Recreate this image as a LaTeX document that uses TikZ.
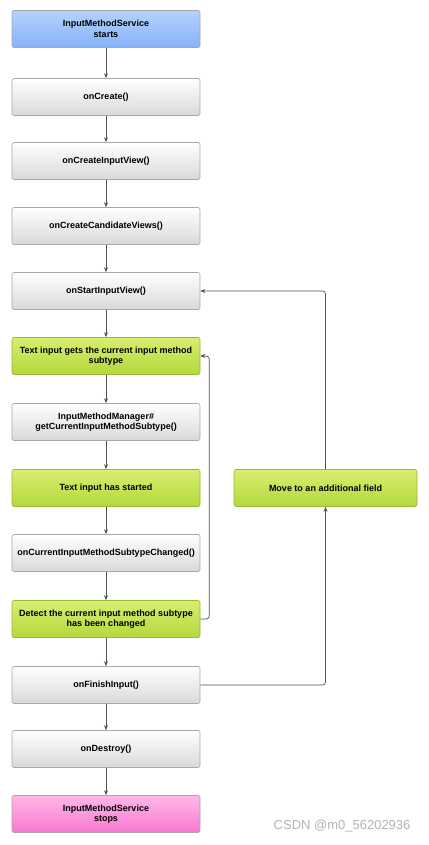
\documentclass[tikz,border=0pt]{standalone}
\usepackage{fontspec}
\setmainfont{Liberation Sans}
\usetikzlibrary{arrows.meta,positioning}
\definecolor{bordergray}{HTML}{A8A8A8}
\definecolor{linegray}{HTML}{505050}
\definecolor{greentop}{HTML}{D8EE70}
\definecolor{greenbot}{HTML}{B4D83C}
\definecolor{greenborder}{HTML}{98B838}
\definecolor{bluetop}{HTML}{B4D2FF}
\definecolor{bluebot}{HTML}{86B2F8}
\definecolor{pinktop}{HTML}{FFB8E8}
\definecolor{pinkbot}{HTML}{F878D0}
\begin{document}
\begin{tikzpicture}[x=1pt,y=-1pt,
  box/.style={draw=bordergray, line width=0.6pt, rounded corners=2pt,
    minimum width=188pt, minimum height=37pt, align=center,
    font=\fontsize{9}{10.5}\selectfont\bfseries, inner sep=1pt},
  graybox/.style={box, top color=white, bottom color=black!15},
  bluebox/.style={box, top color=bluetop, bottom color=bluebot},
  greenbox/.style={box, draw=greenborder, top color=greentop, bottom color=greenbot},
  pinkbox/.style={box, top color=pinktop, bottom color=pinkbot},
  flow/.style={draw=linegray, line width=0.7pt, -{Stealth[length=5pt,width=4pt]}},
  loop/.style={flow, rounded corners=3pt}
]
\useasboundingbox (0,0) rectangle (428,845);
\node[bluebox]  (s)   at (106,29)  {InputMethodService\\starts};
\node[graybox]  (c)   at (106,97)  {onCreate()};
\node[graybox]  (civ) at (106,161) {onCreateInputView()};
\node[graybox]  (ccv) at (106,226) {onCreateCandidateViews()};
\node[graybox]  (siv) at (106,291) {onStartInputView()};
\node[greenbox] (tig) at (106,356) {Text input gets the current input method\\subtype};
\node[graybox]  (imm) at (106,422) {InputMethodManager\#\\getCurrentInputMethodSubtype()};
\node[greenbox] (tis) at (106,488) {Text input has started};
\node[graybox]  (cch) at (106,553) {onCurrentInputMethodSubtypeChanged()};
\node[greenbox] (det) at (106,619) {Detect the current input method subtype\\has been changed};
\node[graybox]  (fin) at (106,685) {onFinishInput()};
\node[graybox]  (des) at (106,749) {onDestroy()};
\node[pinkbox]  (st)  at (106,814) {InputMethodService\\stops};
\node[greenbox, minimum width=183pt] (mov) at (325.5,488) {Move to an additional field};
\node[text=black!30, font=\fontsize{13}{15}\selectfont, anchor=east] (wm) at (414,826) {CSDN @m0\_56202936};

\draw[flow] (s) -- (c);
\draw[flow] (c) -- (civ);
\draw[flow] (civ) -- (ccv);
\draw[flow] (ccv) -- (siv);
\draw[flow] (siv) -- (tig);
\draw[flow] (tig) -- (imm);
\draw[flow] (imm) -- (tis);
\draw[flow] (tis) -- (cch);
\draw[flow] (cch) -- (det);
\draw[flow] (det) -- (fin);
\draw[flow] (fin) -- (des);
\draw[flow] (des) -- (st);

\draw[loop] (det.east) -- ++(9,0) |- (tig.east);
\draw[loop] (fin.east) -| (mov.south);
\draw[loop] (mov.north) |- (siv.east);
\end{tikzpicture}
\end{document}
